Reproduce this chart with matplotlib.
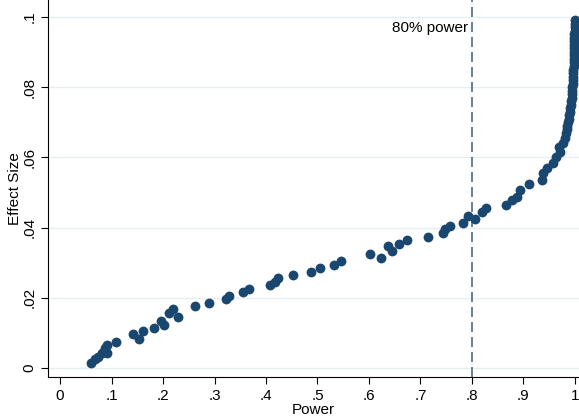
import matplotlib.pyplot as plt

plt.rcParams['font.family'] = ['Liberation Sans', 'DejaVu Sans']

# power (x) and effect size (y)
power = [0.060, 0.068, 0.074, 0.081, 0.087, 0.092, 0.091, 0.109, 0.141, 0.154,
         0.161, 0.183, 0.197, 0.201, 0.212, 0.219, 0.230, 0.262, 0.289, 0.322,
         0.329, 0.355, 0.367, 0.408, 0.417, 0.423, 0.452, 0.487, 0.504, 0.532,
         0.545, 0.602, 0.623, 0.637, 0.644, 0.658, 0.674, 0.714, 0.743, 0.748,
         0.757, 0.783, 0.793, 0.806, 0.819, 0.827, 0.866, 0.877, 0.887, 0.893,
         0.911, 0.936, 0.938, 0.945, 0.958, 0.964, 0.971, 0.970,
         0.977, 0.980, 0.982, 0.984, 0.985, 0.987, 0.988, 0.989, 0.990, 0.991,
         0.992, 0.993, 0.994, 0.994, 0.995, 0.995, 0.996, 0.996, 0.997, 0.997,
         0.997, 0.998, 0.998, 0.998, 0.998, 0.999, 0.999, 0.999, 0.999, 0.999,
         0.999, 1.000, 1.000, 1.000, 1.000]
effect = [0.0015, 0.0025, 0.0032, 0.0042, 0.0056, 0.0066, 0.0044, 0.0075, 0.0096, 0.0083,
          0.0105, 0.0113, 0.0134, 0.0122, 0.0156, 0.0167, 0.0144, 0.0177, 0.0184, 0.0196,
          0.0206, 0.0215, 0.0225, 0.0235, 0.0246, 0.0256, 0.0265, 0.0274, 0.0284, 0.0293,
          0.0305, 0.0324, 0.0314, 0.0346, 0.0333, 0.0352, 0.0365, 0.0374, 0.0384, 0.0395,
          0.0405, 0.0412, 0.0434, 0.0423, 0.0445, 0.0455, 0.0464, 0.0479, 0.0488, 0.0507,
          0.0523, 0.0536, 0.0555, 0.0570, 0.0585, 0.0600, 0.0614, 0.0630,
          0.064, 0.0655, 0.067, 0.068, 0.069, 0.070, 0.071, 0.072, 0.073, 0.074,
          0.075, 0.076, 0.077, 0.078, 0.079, 0.080, 0.081, 0.082, 0.083, 0.084,
          0.085, 0.086, 0.087, 0.088, 0.089, 0.090, 0.091, 0.092, 0.093, 0.094,
          0.095, 0.096, 0.097, 0.098, 0.099]

xticks = [0, 0.1, 0.2, 0.3, 0.4, 0.5, 0.6, 0.7, 0.8, 0.9, 1.0]
xlabels = ["0", ".1", ".2", ".3", ".4", ".5", ".6", ".7", ".8", ".9", "1"]
yticks = [0, 0.02, 0.04, 0.06, 0.08, 0.1]
ylabels = ["0", ".02", ".04", ".06", ".08", ".1"]

navy = "#1a476f"

fig = plt.figure(figsize=(5.79, 4.19), dpi=100)
ax = fig.add_axes([0.083, 0.100, 0.917, 0.900])

ax.scatter(power, effect, s=50, color=navy, linewidths=0, zorder=3)
ax.axvline(0.8, color="#4d6b85", linestyle=(0, (6, 3)), linewidth=1.2, zorder=2)
ax.text(0.792, 0.0969, "80% power", ha="right", va="center", fontsize=11)

ax.set_xlim(-0.0233, 1.008)
ax.set_ylim(-0.0026, 0.1048)
ax.set_xticks(xticks)
ax.set_xticklabels(xlabels)
ax.set_yticks(yticks)
ax.set_yticklabels(ylabels, rotation=90, va="center")
ax.tick_params(labelsize=11, length=5, width=0.8, color="black")

ax.grid(axis="y", color="#e6eef0", linewidth=1.0, zorder=0)
ax.set_axisbelow(True)
for s in ["top", "right"]:
    ax.spines[s].set_visible(False)
for s in ["left", "bottom"]:
    ax.spines[s].set_linewidth(0.8)

ax.set_xlabel("Power", fontsize=11, labelpad=0)
ax.set_ylabel("Effect Size", fontsize=11, labelpad=0)

fig.savefig("out.png", dpi=100)
